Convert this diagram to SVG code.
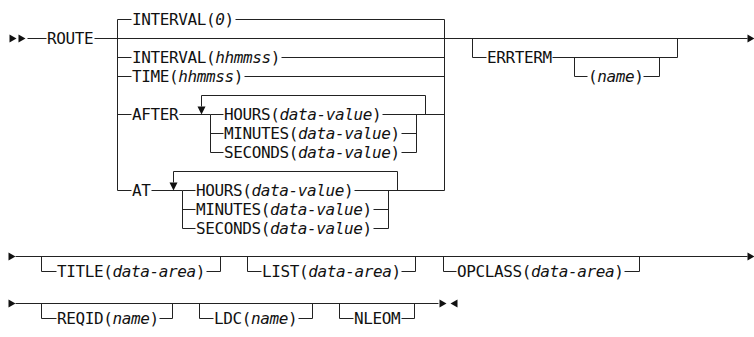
<svg xmlns="http://www.w3.org/2000/svg" xmlns:xlink="http://www.w3.org/1999/xlink" width="754" height="337" viewBox="0 0 754 337">
<style>
.l{stroke:#222;stroke-width:1;fill:none}
.t{font-family:"DejaVu Sans Mono","Liberation Mono",monospace;font-size:16px;letter-spacing:-0.38px;fill:#111}
.i{font-style:italic}
.a{fill:#111}
</style>
<defs>
<path id="ar" class="a" d="M0,-4 L7,0 L0,4Z"/>
<path id="al" class="a" d="M0,-4 L-7,0 L0,4Z"/>
<path id="ad" class="a" d="M-4,-8 L4,-8 L0,0Z"/>
</defs>
<rect width="754" height="337" fill="#fff"/>
<g id="connectors" transform="translate(0.5,0.5)">
<path class="l" d="M27 38H46M94 38H747M117 19V190M444 19V190M117 19H131M235 19H444M117 57H131M281 57H444M117 76H131M244 76H444M117 114H131M179 114H210M201 106V95H425V114M210 114V152M210 114H223M210 133H223M210 152H223M382 114H444M401 133H416M401 152H416M416 114V152M117 190H131M151 190H182M173 182V171H397V190M182 190V228M182 190H195M182 209H195M182 228H195M354 190H444M373 209H388M373 228H388M388 190V228"/>
<path class="l" d="M472 38V57H486M552 57H677V38M574 57V76H587M643 76H659V57"/>
<path class="l" d="M15 256H747M41 256V271H56M206 271H220V256M247 256V271H261M401 271H415V256M443 256V271H456M624 271H639V256"/>
<path class="l" d="M15 303H438M41 303V318H56M159 318H172V303M199 303V318H213M298 318H312V303M339 303V318H353M401 318H414V303"/>
<use xlink:href="#ar" x="9" y="38"/>
<use xlink:href="#ar" x="18" y="38"/>
<use xlink:href="#ar" x="747" y="38"/>
<use xlink:href="#ad" x="201" y="114"/>
<use xlink:href="#ad" x="173" y="190"/>
<use xlink:href="#ar" x="8" y="256"/>
<use xlink:href="#ar" x="747" y="256"/>
<use xlink:href="#ar" x="8" y="303"/>
<use xlink:href="#ar" x="439" y="303"/>
<use xlink:href="#al" x="457" y="303"/>
</g>
<g id="route"><text class="t" x="47" y="44">ROUTE</text></g>
<g id="interval0"><text class="t" x="132" y="25">INTERVAL(<tspan class="i">0</tspan>)</text></g>
<g id="interval"><text class="t" x="132" y="63">INTERVAL(<tspan class="i">hhmmss</tspan>)</text></g>
<g id="time"><text class="t" x="132" y="82">TIME(<tspan class="i">hhmmss</tspan>)</text></g>
<g id="after"><text class="t" x="132" y="120">AFTER</text></g>
<g id="after-hours"><text class="t" x="224" y="120">HOURS(<tspan class="i">data-value</tspan>)</text></g>
<g id="after-minutes"><text class="t" x="224" y="139">MINUTES(<tspan class="i">data-value</tspan>)</text></g>
<g id="after-seconds"><text class="t" x="224" y="158">SECONDS(<tspan class="i">data-value</tspan>)</text></g>
<g id="at"><text class="t" x="132" y="196">AT</text></g>
<g id="at-hours"><text class="t" x="196" y="196">HOURS(<tspan class="i">data-value</tspan>)</text></g>
<g id="at-minutes"><text class="t" x="196" y="215">MINUTES(<tspan class="i">data-value</tspan>)</text></g>
<g id="at-seconds"><text class="t" x="196" y="234">SECONDS(<tspan class="i">data-value</tspan>)</text></g>
<g id="errterm"><text class="t" x="487" y="63">ERRTERM</text></g>
<g id="errterm-name"><text class="t" x="588" y="82">(<tspan class="i">name</tspan>)</text></g>
<g id="title"><text class="t" x="57" y="277">TITLE(<tspan class="i">data-area</tspan>)</text></g>
<g id="list"><text class="t" x="262" y="277">LIST(<tspan class="i">data-area</tspan>)</text></g>
<g id="opclass"><text class="t" x="457" y="277">OPCLASS(<tspan class="i">data-area</tspan>)</text></g>
<g id="reqid"><text class="t" x="57" y="324">REQID(<tspan class="i">name</tspan>)</text></g>
<g id="ldc"><text class="t" x="214" y="324">LDC(<tspan class="i">name</tspan>)</text></g>
<g id="nleom"><text class="t" x="354" y="324">NLEOM</text></g>
</svg>
